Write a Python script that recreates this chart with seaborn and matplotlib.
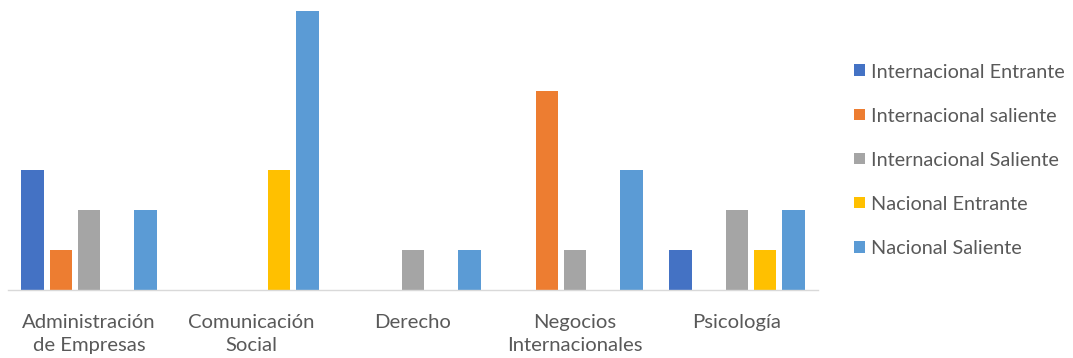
import pandas as pd
import seaborn as sns
import matplotlib.pyplot as plt

categorias = ["Administración\nde Empresas", "Comunicación\nSocial", "Derecho",
              "Negocios\nInternacionales", "Psicología"]
series = ["Internacional Entrante", "Internacional saliente", "Internacional Saliente",
          "Nacional Entrante", "Nacional Saliente"]
int_entrante = [3, 0, 0, 0, 1]
int_saliente_min = [1, 0, 0, 5, 0]
int_saliente = [2, 0, 1, 1, 2]
nac_entrante = [0, 3, 0, 0, 1]
nac_saliente = [2, 7, 1, 3, 2]
colores = ["#4472C4", "#ED7D31", "#A5A5A5", "#FFC000", "#5B9BD5"]

valores = [int_entrante, int_saliente_min, int_saliente, nac_entrante, nac_saliente]
rows = []
for s, vals in zip(series, valores):
    for c, v in zip(categorias, vals):
        rows.append({"Carrera": c, "Tipo": s, "Cantidad": v})
df = pd.DataFrame(rows)

sns.set_style("white")
plt.rcParams['font.family'] = ['Lato', 'DejaVu Sans']

fig = plt.figure(figsize=(10.73, 3.58), dpi=100)
ax = fig.add_axes([8/1073, 68/358, 810/1073, 279/358])
sns.barplot(data=df, x="Carrera", y="Cantidad", hue="Tipo", hue_order=series,
            palette=colores, saturation=1, width=0.87, gap=0.2, linewidth=0, ax=ax)
ax.set_ylim(0, 7)
ax.set_xlim(-0.5, 4.5)
ax.set_xlabel("")
ax.set_ylabel("")
ax.set_yticks([])
for s in ["top", "left", "right"]:
    ax.spines[s].set_visible(False)
ax.spines["bottom"].set_color("#D9D9D9")
ax.spines["bottom"].set_linewidth(1)
ax.tick_params(axis="x", length=0, pad=17, labelsize=14.6, labelcolor="#595959")
for t in ax.get_xticklabels():
    t.set_linespacing(1.45)

handles, labels = ax.get_legend_handles_labels()
ax.get_legend().remove()
fig.legend(handles, labels, loc="center left", bbox_to_anchor=(836/1073, 0.553),
           frameon=False, fontsize=14.3, labelcolor="#595959", handlelength=0.55,
           handleheight=0.55, handletextpad=0.3, labelspacing=1.36)

fig.savefig("out.png", dpi=100)
